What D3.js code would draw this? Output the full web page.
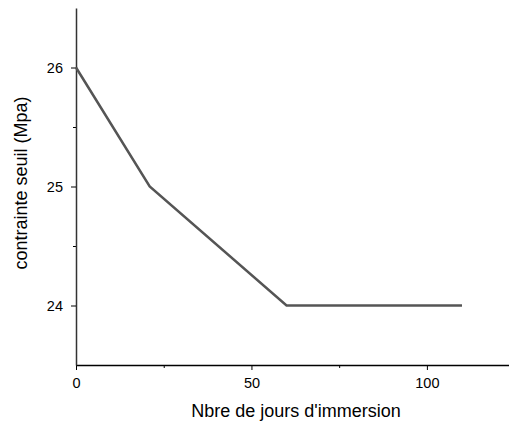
<!DOCTYPE html>
<html lang="fr">
	<head>
		<meta charset="utf-8">
		<title>contrainte seuil</title>
		<script type="text/javascript" src="https://d3js.org/d3.v7.min.js"></script>
		<style>
			body { margin:0; background:#fff; }
			text { font-family: "Liberation Sans", Arial, sans-serif; fill:#000; }
		</style>
	</head>
	<body>
		<svg id="chart"></svg>
		<script>
			// data
			var days = [0, 21, 60, 110];
			var stress = [26, 25, 24, 24];
			var xTicks = [0, 50, 100];
			var xMinor = [25, 75];
			var yTicks = [24, 25, 26];
			var yMinor = [24.5, 25.5];

			var width = 509;
			var height = 424;
			var border = {left:76, right:0, top:8, bottom:59};

			var svg = d3.select("#chart")
				.attr("width", width)
				.attr("height", height);

			var xScale = d3.scaleLinear()
				.domain([0, 123.4])
				.range([border.left, width - border.right]);

			var yScale = d3.scaleLinear()
				.domain([23.5, 26.5])
				.range([height - border.bottom, border.top]);

			// minor ticks first
			svg.append("g")
				.attr("transform", "translate(0," + (height - border.bottom) + ")")
				.call(d3.axisBottom(xScale).tickValues(xMinor).tickSize(3).tickFormat(""))
				.call(g => g.select(".domain").remove());
			svg.append("g")
				.attr("transform", "translate(" + border.left + ",0)")
				.call(d3.axisLeft(yScale).tickValues(yMinor).tickSize(3).tickFormat(""))
				.call(g => g.select(".domain").remove());

			var xAxis = svg.append("g")
				.attr("transform", "translate(0," + (height - border.bottom) + ")")
				.call(d3.axisBottom(xScale).tickValues(xTicks).tickSize(5).tickSizeOuter(0).tickPadding(8).tickFormat(d3.format("d")));
			xAxis.selectAll("text").style("font-size", "14.5px");
			xAxis.select(".domain").attr("stroke", "#000").attr("stroke-width", 1.5);

			var yAxis = svg.append("g")
				.attr("transform", "translate(" + border.left + ",0)")
				.call(d3.axisLeft(yScale).tickValues(yTicks).tickSize(5).tickSizeOuter(0).tickPadding(8).tickFormat(d3.format("d")));
			yAxis.selectAll("text").style("font-size", "14.5px");
			yAxis.select(".domain").attr("stroke", "#333").attr("stroke-width", 1.5);

			var line = d3.line()
				.x((d, i) => xScale(days[i]))
				.y(d => yScale(d));

			svg.append("path")
				.datum(stress)
				.attr("d", line)
				.attr("fill", "none")
				.attr("stroke", "#555")
				.attr("stroke-width", 2.5);

			svg.append("text")
				.attr("x", 296)
				.attr("y", 417)
				.attr("text-anchor", "middle")
				.style("font-size", "18px")
				.text("Nbre de jours d'immersion");

			svg.append("text")
				.attr("transform", "translate(27,183) rotate(-90)")
				.attr("text-anchor", "middle")
				.style("font-size", "18px")
				.text("contrainte seuil (Mpa)");
		</script>
	</body>
</html>
